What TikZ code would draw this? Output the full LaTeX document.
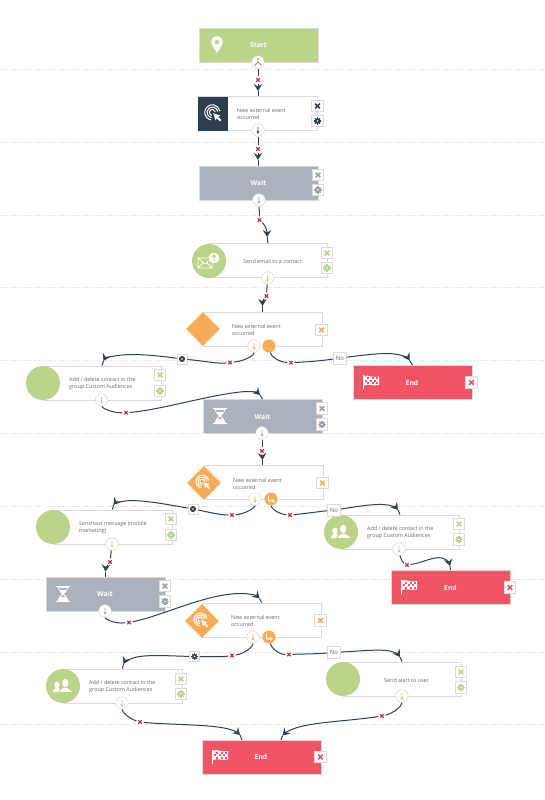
\documentclass[tikz,border=0pt]{standalone}
\usepackage{fontspec}
\setmainfont{Open Sans}
\usetikzlibrary{arrows.meta,shapes.geometric}
\definecolor{cgreen}{HTML}{BCD38A}
\definecolor{cdark}{HTML}{2C3E50}
\definecolor{cgray}{HTML}{ABB2BB}
\definecolor{cgrayd}{HTML}{9AA1AA}
\definecolor{corange}{HTML}{F9AB57}
\definecolor{cred}{HTML}{F05566}
\definecolor{cx}{HTML}{C8303F}
\definecolor{cline}{HTML}{2F4356}
\definecolor{cbord}{HTML}{DADADA}
\definecolor{ctext}{HTML}{6A6A6A}
\definecolor{cdash}{HTML}{E2E2E2}
\tikzset{
  box/.style={draw=cbord,line width=0.9pt,fill=white,inner sep=0pt,minimum height=34pt,minimum width=#1},
  solidbox/.style={draw=cbord,line width=0.7pt,fill=#1,inner sep=0pt,minimum height=34pt,minimum width=119pt},
  btn/.style={draw=cbord,line width=0.7pt,fill=white,inner sep=0pt,minimum size=11.5pt},
  lab/.style={draw=cbord,line width=0.7pt,fill=white,inner sep=0pt,minimum width=10pt,minimum height=10pt},
  nolab/.style={lab,minimum width=13pt,minimum height=12pt,text=ctext,font=\fontsize{6}{7}\selectfont},
  port/.style={circle,draw=cbord,line width=0.6pt,fill=white,inner sep=0pt,minimum size=12.5pt},
  oport/.style={circle,fill=corange,inner sep=0pt,minimum size=13pt},
  blob/.style={circle,fill=cgreen,inner sep=0pt,minimum size=34pt},
  dia/.style={diamond,aspect=1,fill=corange,inner sep=0pt,minimum width=34pt,minimum height=34pt},
  xnode/.style={circle,fill=white,inner sep=0pt,minimum size=7pt},
  dlabel/.style={anchor=west,align=left,text=ctext,inner sep=0pt,font=\fontsize{5.4}{7}\selectfont},
  wlabel/.style={text=white,inner sep=0pt,font=\fontsize{6.8}{8}\bfseries\selectfont},
  conn/.style={draw=cline,line width=1pt},
  connend/.style={conn,-{Stealth[length=7pt,width=8.5pt,inset=2.5pt]}},
  sep/.style={draw=cdash,line width=0.5pt,dash pattern=on 1.2pt off 1.2pt},
  pics/xic/.style={code={\draw[#1,line width=1.5pt] (-2.3,-2.3)--(2.3,2.3) (-2.3,2.3)--(2.3,-2.3);}},
  pics/redx/.style={code={\draw[cx,line width=1.1pt] (-1.7,-1.7)--(1.7,1.7) (-1.7,1.7)--(1.7,-1.7);}},
  pics/gearic/.style={code={
    \foreach \a in {0,45,...,315}{\draw[#1,line width=1.3pt,rotate=\a] (2.2,0)--(3.6,0);}
    \fill[#1,even odd rule] (0,0) circle (2.9) (0,0) circle (1.2);}},
  pics/down/.style={code={\draw[#1,line width=0.8pt] (0,-3)--(0,3) (-1.2,1.6)--(0,3)--(1.2,1.6);}},
  pics/hour/.style={code={
    \fill[white] (-7,-8) rectangle (7,-6.8) (-7,6.8) rectangle (7,8);
    \fill[white] (-5,-6.8)--(5,-6.8)--(5,-5.5) .. controls (5,-2.5) and (1.2,-1.5) .. (0.8,0) .. controls (1.2,1.5) and (5,2.5) .. (5,5.5) -- (5,6.8)--(-5,6.8)--(-5,5.5) .. controls (-5,2.5) and (-1.2,1.5) .. (-0.8,0) .. controls (-1.2,-1.5) and (-5,-2.5) .. (-5,-5.5) --cycle;
    \fill[cgray] (-3.8,-5.8) rectangle (3.8,-3.6);
    \fill[cgray] (-0.4,0.8)--(0.4,0.8)--(2,3) -- (-2,3)--cycle;}},
  pics/flag/.style={code={
    \fill[white] (-8.2,-6.5) rectangle (-7.4,7.5);
    \fill[white] (-6.8,-5.5) .. controls (-3,-7) and (0,-3.5) .. (8,-5) -- (8,3.5) .. controls (1,5) and (-3,1.5) .. (-6.8,4.2) -- cycle;
    \foreach \i/\j in {1/0,3/0,5/0,0/1,2/1,4/1,1/2,3/2,5/2}{
      \fill[#1] (-5.9+2.2*\i,-4.4+2.5*\j) rectangle ++(2,2.1);}}},
  pics/clicker/.style={code={
    \draw[white,line width=1pt] (-0.6,-0.6) ++(100:3.0) arc (100:350:3.0);
    \draw[white,line width=1pt] (-0.6,-0.6) ++(100:5.4) arc (100:350:5.4);
    \draw[white,line width=1pt] (-0.6,-0.6) ++(100:7.6) arc (100:350:7.6);
    \fill[white] (0.2,0.2) -- (7.4,2.6) -- (5.2,3.8) -- (8.4,7) -- (7,8.4) -- (3.8,5.2) -- (2.6,7.4) -- cycle;}},
  pics/users/.style={code={
    \fill[white] (-10.5,6) .. controls (-10.5,3) and (-8,3) .. (-7,1.8) -- (-5,1.8) .. controls (-4,3) and (-2,3) .. (-1,6) -- cycle;
    \fill[white] (-6,-1) ellipse (2.6 and 3.3);
    \filldraw[white,draw=#1,line width=0.9pt] (-4,6.6) .. controls (-4,2.8) and (0,2.8) .. (1,0.8) -- (3.5,0.8) .. controls (4.5,2.8) and (9.3,2.8) .. (9.8,6.6) -- cycle;
    \filldraw[white,draw=#1,line width=0.6pt] (2.2,-3) ellipse (3.6 and 4.7);}},
  pics/pin/.style={code={
    \fill[white,even odd rule] (0,8.5) .. controls (-2.5,3.5) and (-5.8,1) .. (-5.8,-2.5) arc (180:360:5.8) .. controls (5.8,1) and (2.5,3.5) .. (0,8.5) -- cycle (0,-2.5) circle (2.3);}},
  pics/mail/.style={code={
    \draw[white,line width=0.8pt,line join=round] (-11,-3) rectangle (3,7) (-11,-3)--(-4,3)--(3,-3) (-11,7)--(-6,2) (3,7)--(-2,2);
    \filldraw[white,draw=cgreen,line width=0.8pt] (5,-3) circle (5.8);
    \draw[cgreen,line width=1pt] (5,0)--(5,-6) (3,-4)--(5,-6)--(7,-4);}},
  pics/branch/.style={code={
    \draw[#1,line width=0.9pt] (0,-3)--(0,0)--(-2.8,2.8) (0,0)--(2.8,2.8);
    \fill[#1] (0,-3) circle (0.9) (-2.8,2.8) circle (0.9) (2.8,2.8) circle (0.9);}},
  pics/turn/.style={code={\draw[white,line width=1pt] (-2.5,-3.5)--(-2.5,1.8)--(3,1.8) (1.5,0.3)--(3,1.8)--(1.5,3.3);}},
}
\newcommand\xbtn[4]{\node[btn] (#1) at (#2,#3) {}; \pic at (#1) {xic=#4};}
\newcommand\gbtn[4]{\node[btn] (#1) at (#2,#3) {}; \pic at (#1) {gearic=#4};}
\newcommand\portat[4]{\node[port] (#1) at (#2,#3) {}; \pic at (#1) {down=#4};}
\newcommand\xmk[3]{\node[xnode] (#1) at (#2,#3) {}; \pic at (#1) {redx};}
\newcommand\glab[3]{\node[lab] (#1) at (#2,#3) {}; \pic[scale=0.85] at (#1) {gearic=black!75};}
\begin{document}
\begin{tikzpicture}[x=1pt,y=-1pt]
\useasboundingbox (0,0) rectangle (545,800);
\fill[white] (0,0) rectangle (545,800);
% separators
\foreach \yy in {69,142,215,287.5,360,433,506.5,579,652,724.5}{\draw[sep] (0,\yy)--(545,\yy);}

% Start
\node[solidbox=cgreen] (start) at (258.5,45) {};
\node[wlabel] (startt) at (258.5,45) {Start};
\pic at (217,44.5) {pin};
\node[port] (pstart) at (258,62) {}; \pic at (pstart) {branch=cgreen!75!black};

% Event 1
\node[box=119pt] (ev1) at (257.5,113.5) {};
\fill[cdark] (198,96.5) rectangle (228,130.5);
\pic at (213,113) {clicker=cdark};
\node[dlabel] (ev1t) at (237,113.5) {New external event\\occurred};
\xbtn{ev1x}{317.5}{106}{cdark}
\gbtn{ev1g}{317.5}{121}{cdark}
\portat{pev1}{258}{130}{cdark}

% Wait 1
\node[solidbox=cgray] (w1) at (258.5,183) {};
\node[wlabel] (w1t) at (258.5,183) {Wait};
\xbtn{w1x}{318}{175}{cgrayd}
\gbtn{w1g}{318}{190}{cgrayd}
\portat{pw1}{259}{200}{cgrayd}

% Email
\node[box=118pt] (em) at (268,260.5) {};
\node[blob] (emc) at (209,261) {};
\pic at (209,261) {mail};
\node[dlabel] (emt) at (243,261) {Send email to a contact};
\xbtn{emx}{327}{253}{cgreen}
\gbtn{emg}{327}{268}{cgreen}
\portat{pem}{267.5}{278}{cgreen}

% Decision 1
\node[box=119pt] (d1) at (262.5,329) {};
\node[dia] (d1d) at (203,329) {};
\node[dlabel] (d1t) at (232,329.5) {New external event\\occurred};
\xbtn{d1x}{321.5}{330}{corange}
\portat{pd1}{254}{346}{corange}
\node[oport] (od1) at (269,346) {};

% Add 1
\node[box=118pt] (a1) at (102,383) {};
\node[blob] (a1c) at (43,383) {};
\node[dlabel] (a1t) at (69,383.5) {Add / delete contact in the\\group Custom Audiences};
\xbtn{a1x}{160}{375}{cgreen}
\gbtn{a1g}{160}{391}{cgreen}
\portat{pa1}{101.5}{400}{cgreen}

% Wait 2
\node[solidbox=cgray] (w2) at (262.5,416.5) {};
\node[wlabel] (w2t) at (262.5,416.5) {Wait};
\pic at (220,416) {hour};
\xbtn{w2x}{322}{408.5}{cgrayd}
\gbtn{w2g}{322}{424.5}{cgrayd}
\portat{pw2}{262}{433}{cgrayd}

% End 1
\node[solidbox=cred] (e1) at (412.5,382.5) {};
\node[wlabel] (e1t) at (412,382.5) {End};
\pic at (371,381.5) {flag=cred};
\xbtn{e1x}{471.5}{382.5}{cred}

% Decision 2
\node[box=119pt] (d2) at (263.5,482.5) {};
\node[dia] (d2d) at (204,483) {};
\pic[scale=0.85] at (203,482) {clicker=corange};
\node[dlabel] (d2t) at (233,483.5) {New external event\\occurred};
\xbtn{d2x}{322.5}{483}{corange}
\portat{pd2}{255}{499}{corange}
\node[oport] (od2) at (271,499) {}; \pic at (od2) {turn};

% Send text
\node[box=119pt] (st) at (112.5,527) {};
\node[blob] (stc) at (53,527) {};
\node[dlabel] (stt) at (79,527.5) {Send text message (mobile\\marketing)};
\xbtn{stx}{171}{519}{cgreen}
\gbtn{stg}{171}{535}{cgreen}
\portat{pst}{112}{544}{cgreen}

% Add 2
\node[box=118pt] (a2) at (400,532) {};
\node[blob] (a2c) at (341,532) {};
\pic at (341,532) {users=cgreen};
\node[dlabel] (a2t) at (367,532.5) {Add / delete contact in the\\group Custom Audiences};
\xbtn{a2x}{459}{524}{cgreen}
\gbtn{a2g}{459}{539.5}{cgreen}
\portat{pa2}{399}{549}{cgreen}

% End 2
\node[solidbox=cred] (e2) at (450.5,587.5) {};
\node[wlabel] (e2t) at (450.5,587.5) {End};
\pic at (409,586) {flag=cred};
\xbtn{e2x}{510}{587.5}{cred}

% Wait 3
\node[solidbox=cgray] (w3) at (105.5,594) {};
\node[wlabel] (w3t) at (105,594) {Wait};
\pic at (63,594) {hour};
\xbtn{w3x}{165}{586}{cgrayd}
\gbtn{w3g}{165}{601.5}{cgrayd}
\portat{pw3}{105}{611}{cgrayd}

% Decision 3
\node[box=119pt] (d3) at (261.5,620) {};
\node[dia] (d3d) at (202,621) {};
\pic[scale=0.85] at (201,620) {clicker=corange};
\node[dlabel] (d3t) at (231,620.5) {New external event\\occurred};
\xbtn{d3x}{320.5}{620.5}{corange}
\portat{pd3}{253}{637}{corange}
\node[oport] (od3) at (269,637) {}; \pic at (od3) {turn};

% Add 3
\node[box=119pt] (a3) at (122.5,686) {};
\node[blob] (a3c) at (63,686) {};
\pic at (63,686) {users=cgreen};
\node[dlabel] (a3t) at (89,686.5) {Add / delete contact in the\\group Custom Audiences};
\xbtn{a3x}{181}{679}{cgreen}
\gbtn{a3g}{181}{694}{cgreen}
\portat{pa3}{122}{703}{cgreen}

% Alert
\node[box=118pt] (al) at (402,679) {};
\node[blob] (alc) at (343,679) {};
\node[dlabel] (alt) at (384,680) {Send alert to user};
\xbtn{alx}{461}{672}{cgreen}
\gbtn{alg}{461}{687.5}{cgreen}
\portat{pal}{402}{696}{cgreen}

% End 3
\node[solidbox=cred] (e3) at (261.5,757) {};
\node[wlabel] (e3t) at (261,757) {End};
\pic at (220,756) {flag=cred};
\xbtn{e3x}{320.5}{757}{cred}
\coordinate (e3a) at (242,740);
\coordinate (e3b) at (281,740);

% markers on connectors
\xmk{m1}{258}{80}
\xmk{m2}{258}{149}
\xmk{m3}{259.5}{220}
\xmk{m4}{266.5}{296}
\xmk{m5}{230}{362.5}
\glab{g5}{182}{359}
\xmk{m6}{291}{362.7}
\node[nolab] (n6) at (340,358) {No};
\xmk{m7}{126}{412.7}
\xmk{m8}{262}{451}
\xmk{m9}{232}{515}
\glab{g9}{193}{509}
\xmk{m10}{290}{515}
\node[nolab] (n10) at (334,510) {No};
\xmk{m11}{110}{562}
\xmk{m12}{129}{622.5}
\xmk{m13}{232}{655.5}
\glab{g13}{194.5}{656.5}
\xmk{m14}{289}{654.5}
\node[nolab] (n14) at (334,652.5) {No};
\xmk{m15}{407}{565}
\xmk{m16}{140}{722}
\xmk{m17}{382}{716}

% arrow tip positions
\coordinate (t1) at (258,91);
\coordinate (t2) at (258,160);
\coordinate (t3) at (267.2,237);
\coordinate (t4) at (262.5,306);
\coordinate (t5) at (103.5,361);
\coordinate (t6) at (409.5,360.5);
\coordinate (t7) at (260,395);
\coordinate (t8) at (262.5,460);
\coordinate (t9) at (113.5,505);
\coordinate (t10) at (398,510);
\coordinate (t11) at (105.5,571.5);
\coordinate (t12) at (259.5,598.5);
\coordinate (t13) at (123.5,664);
\coordinate (t14) at (400,657);
\coordinate (t15) at (450,566);
\coordinate (t16) at (240,735);
\coordinate (t17) at (282.5,735.5);

% connectors
\draw[conn] (pstart) -- (m1);
\draw[connend] (m1) -- (t1);
\draw[conn] (t1) -- (ev1.north -| t1);
\draw[conn] (pev1) -- (m2);
\draw[connend] (m2) -- (t2);
\draw[conn] (t2) -- (w1.north -| t2);
\draw[conn] (pw1) -- (m3);
\draw[connend] (m3) .. controls (264,224) and (267,229) .. (t3);
\draw[conn] (t3) -- (em.north);
\draw[conn] (pem) -- (m4);
\draw[connend] (m4) .. controls (264,299) and (262.5,301) .. (t4);
\draw[conn] (t4) -- (d1.north);
\draw[conn] (pd1) .. controls (254,356) and (244,361) .. (m5);
\draw[conn] (m5) .. controls (218,364) and (205,361) .. (g5);
\draw[connend] (g5) .. controls (160,356) and (135,353) .. (118,355.5) .. controls (110,356.5) and (105,358) .. (t5);
\draw[conn] (t5) -- (a1.north);
\draw[conn] (od1) .. controls (271,356) and (278,362) .. (m6);
\draw[conn] (m6) .. controls (305,362) and (320,361) .. (n6);
\draw[connend] (n6) .. controls (365,355) and (385,352) .. (398,354.5) .. controls (404,355.7) and (408,358) .. (t6);
\draw[conn] (t6) -- (e1.north);
\draw[conn] (pa1) .. controls (102,408) and (112,413) .. (m7);
\draw[connend] (m7) .. controls (160,410) and (205,396) .. (240,392) .. controls (249,391) and (257,392) .. (t7);
\draw[conn] (t7) -- (w2.north);
\draw[conn] (pw2) -- (m8);
\draw[connend] (m8) -- (t8);
\draw[conn] (t8) -- (d2.north -| t8);
\draw[conn] (pd2) .. controls (255,508) and (245,514) .. (m9);
\draw[conn] (m9) .. controls (220,515) and (208,512) .. (g9);
\draw[connend] (g9) .. controls (170,505) and (140,499) .. (125,501) .. controls (119,502) and (115,503) .. (t9);
\draw[conn] (t9) -- (st.north);
\draw[conn] (od2) .. controls (271,508) and (278,514) .. (m10);
\draw[conn] (m10) .. controls (302,514) and (315,512) .. (n10);
\draw[connend] (n10) .. controls (355,507) and (375,503) .. (388,505) .. controls (392,505.7) and (396,507.5) .. (t10);
\draw[conn] (t10) -- (a2.north);
\draw[conn] (pst) -- (m11);
\draw[connend] (m11) .. controls (108,565) and (105.8,567) .. (t11);
\draw[conn] (t11) -- (w3.north);
\draw[conn] (pw3) .. controls (105,619) and (114,624) .. (m12);
\draw[connend] (m12) .. controls (165,615) and (205,594) .. (240,593.5) .. controls (248,593.4) and (256,595) .. (t12);
\draw[conn] (t12) -- (d3.north);
\draw[conn] (pd3) .. controls (253,647) and (244,654) .. (m13);
\draw[conn] (m13) .. controls (222,657) and (212,656.5) .. (g13);
\draw[connend] (g13) .. controls (170,656) and (145,654) .. (133,658) .. controls (129,659.3) and (125,661) .. (t13);
\draw[conn] (t13) -- (a3.north);
\draw[conn] (od3) .. controls (271,647) and (278,654.5) .. (m14);
\draw[conn] (m14) .. controls (300,654) and (315,654) .. (n14);
\draw[connend] (n14) .. controls (360,651) and (380,649) .. (390,651) .. controls (394,652) and (398,654) .. (t14);
\draw[conn] (t14) -- (al.north);
\draw[conn] (pa2) .. controls (400,556) and (402,562) .. (m15);
\draw[connend] (m15) .. controls (422,563) and (434,556) .. (442,558) .. controls (446,559) and (449,562) .. (t15);
\draw[conn] (t15) -- (e2.north);
\draw[conn] (pa3) .. controls (122,712) and (130,719) .. (m16);
\draw[connend] (m16) .. controls (170,725) and (215,724) .. (232,730) .. controls (235,731) and (238,733) .. (t16);
\draw[conn] (t16) -- (e3a);
\draw[conn] (pal) .. controls (402,706) and (394,713) .. (m17);
\draw[connend] (m17) .. controls (350,721) and (310,722) .. (293,729) .. controls (289,730.5) and (285,733) .. (t17);
\draw[conn] (t17) -- (e3b);
\end{tikzpicture}
\end{document}
